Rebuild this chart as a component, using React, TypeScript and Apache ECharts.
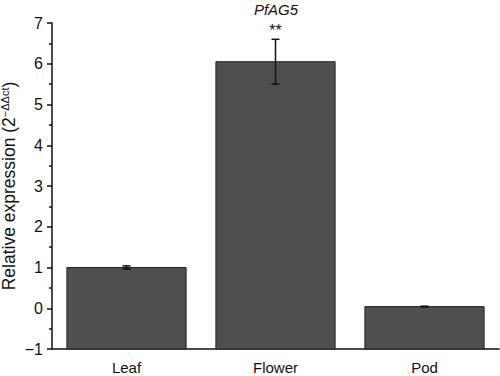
import React, { useEffect, useRef } from "react";
import * as echarts from "echarts";

const categories = ["Leaf", "Flower", "Pod"];
const values = [1.0, 6.05, 0.04];
const errors = [0.04, 0.55, 0.01];
const significance = ["", "**", ""];
const yTicks = { min: -1, max: 7, interval: 1 };

export default function App() {
  const ref = useRef<HTMLDivElement>(null);
  useEffect(() => {
    if (!ref.current) return;
    const chart = echarts.init(ref.current, null, { renderer: "svg" });
    const font = "Liberation Sans, Arial, Helvetica, sans-serif";
    chart.setOption({
      animation: false,
      title: {
        text: "PfAG5",
        left: 271,
        top: -3,
        textAlign: "center",
        textStyle: { fontFamily: font, fontStyle: "italic", fontWeight: "normal", fontSize: 15, color: "#111" },
      },
      grid: { left: 52, right: 1, top: 23, bottom: 27, containLabel: false, outerBoundsMode: "none" },
      xAxis: {
        type: "category",
        data: categories,
        axisLine: { onZero: false, lineStyle: { color: "#111", width: 1.5 } },
        axisTick: { alignWithLabel: true, length: 5, lineStyle: { color: "#111", width: 1.5 } },
        axisLabel: { fontFamily: font, fontSize: 15, color: "#111", margin: 11 },
      },
      yAxis: {
        type: "value",
        min: yTicks.min,
        max: yTicks.max,
        interval: yTicks.interval,
        name: "{a|Relative expression (2}{b|−ΔΔct}{a|)}",
        nameLocation: "middle",
        nameGap: 34,
        nameMoveOverlap: false,
        nameTextStyle: {
          rich: {
            a: { fontFamily: font, fontSize: 17.5, lineHeight: 19, color: "#111" },
            b: { fontFamily: font, fontSize: 11, lineHeight: 12, color: "#111", verticalAlign: "top", padding: [0, 0, 6, 0] },
          },
        },
        axisLine: { show: true, lineStyle: { color: "#111", width: 1.5 } },
        axisTick: { show: true, length: 5, lineStyle: { color: "#111", width: 1.5 } },
        minorTick: { show: true, splitNumber: 2, length: 3, lineStyle: { color: "#111", width: 1.5 } },
        splitLine: { show: false },
        axisLabel: {
          fontFamily: font,
          fontSize: 16,
          color: "#111",
          margin: 9,
          formatter: (v: number) => String(v).replace("-", "−"),
        },
      },
      series: [
        {
          type: "custom",
          data: values.map((v, i) => [i, v]),
          renderItem: (params: any, api: any) => {
            const i = api.value(0);
            const v = api.value(1);
            const p1 = api.coord([i, v]);
            const p0 = api.coord([i, yTicks.min]);
            const w = api.size([1, 0])[0] * 0.8;
            return {
              type: "rect",
              shape: { x: p1[0] - w / 2, y: p1[1], width: w, height: p0[1] - p1[1] },
              style: { fill: "#4f4f4f", stroke: "#222", lineWidth: 1 },
            };
          },
          z: 2,
        },
        {
          type: "custom",
          data: values.map((v, i) => [i, v, errors[i]]),
          renderItem: (params: any, api: any) => {
            const i = api.value(0);
            const v = api.value(1);
            const e = api.value(2);
            const top = api.coord([i, v + e]);
            const bot = api.coord([i, v - e]);
            const hw = 4;
            const children: any[] = [
              { type: "line", shape: { x1: top[0], y1: top[1], x2: bot[0], y2: bot[1] }, style: { stroke: "#111", lineWidth: 1.5 } },
              { type: "line", shape: { x1: top[0] - hw, y1: top[1], x2: top[0] + hw, y2: top[1] }, style: { stroke: "#111", lineWidth: 1.5 } },
              { type: "line", shape: { x1: bot[0] - hw, y1: bot[1], x2: bot[0] + hw, y2: bot[1] }, style: { stroke: "#111", lineWidth: 1.5 } },
            ];
            const sig = significance[params.dataIndex];
            if (sig) {
              children.push({
                type: "text",
                style: {
                  text: sig,
                  x: top[0],
                  y: top[1] - 1,
                  textAlign: "center",
                  textVerticalAlign: "bottom",
                  fontFamily: font,
                  fontSize: 16,
                  fill: "#111",
                },
              });
            }
            return { type: "group", children };
          },
          z: 5,
        },
      ],
    });
    return () => chart.dispose();
  }, []);
  return <div ref={ref} style={{ width: 500, height: 376, position: "absolute", left: 0, top: 0 }} />;
}
